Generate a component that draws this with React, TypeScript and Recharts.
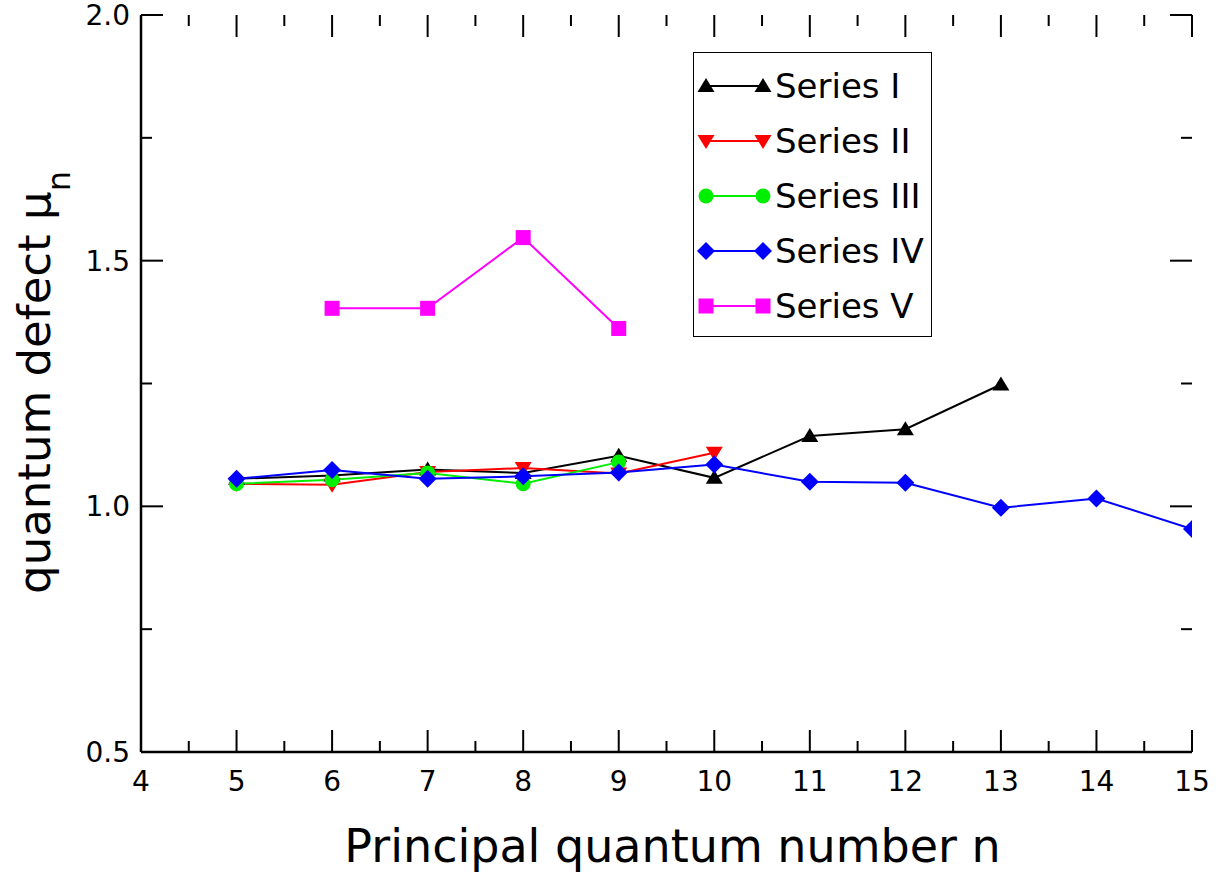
import React from 'react';
import { LineChart, Line, XAxis, YAxis, Legend } from 'recharts';

// --- values ---
const nSeriesI = [5, 6, 7, 8, 9, 10, 11, 12, 13];
const muSeriesI = [1.056, 1.063, 1.075, 1.068, 1.103, 1.058, 1.143, 1.157, 1.248];

const nSeriesII = [5, 6, 7, 8, 9, 10];
const muSeriesII = [1.046, 1.044, 1.07, 1.078, 1.067, 1.109];

const nSeriesIII = [5, 6, 7, 8, 9];
const muSeriesIII = [1.046, 1.054, 1.068, 1.046, 1.09];

const nSeriesIV = [5, 6, 7, 8, 9, 10, 11, 12, 13, 14, 15];
const muSeriesIV = [1.056, 1.074, 1.056, 1.061, 1.069, 1.085, 1.05, 1.048, 0.997, 1.016, 0.954];

const nSeriesV = [6, 7, 8, 9];
const muSeriesV = [1.403, 1.403, 1.547, 1.362];

const xTicks = [4, 4.5, 5, 5.5, 6, 6.5, 7, 7.5, 8, 8.5, 9, 9.5, 10, 10.5, 11, 11.5, 12, 12.5, 13, 13.5, 14, 14.5, 15];
const yTicks = [0.5, 0.75, 1, 1.25, 1.5, 1.75, 2];

const seriesNames = ['Series I', 'Series II', 'Series III', 'Series IV', 'Series V'];
const seriesColors = ['#000000', '#ff0000', '#00ee00', '#0000ff', '#ff00ff'];
const seriesShapes = ['up', 'down', 'circle', 'diamond', 'square'];

const FONT = '"DejaVu Sans", sans-serif';
const CHART_W = 1223;
const CHART_H = 873;
const MARGIN = { top: 15, right: 31, bottom: 0, left: 0 };
const PLOT_TOP = MARGIN.top;
const PLOT_RIGHT = CHART_W - MARGIN.right;

const toPoints = (ns: number[], mus: number[]) => ns.map((n, i) => ({ n, mu: mus[i] }));

const seriesData = [
  toPoints(nSeriesI, muSeriesI),
  toPoints(nSeriesII, muSeriesII),
  toPoints(nSeriesIII, muSeriesIII),
  toPoints(nSeriesIV, muSeriesIV),
  toPoints(nSeriesV, muSeriesV),
];

// --- symbols ---
const Symbol = ({ shape, cx, cy, color }: any) => {
  if (shape === 'up') {
    return <polygon points={`${cx},${cy - 8} ${cx + 8.5},${cy + 6} ${cx - 8.5},${cy + 6}`} fill={color} />;
  }
  if (shape === 'down') {
    return <polygon points={`${cx},${cy + 8} ${cx + 8.5},${cy - 6} ${cx - 8.5},${cy - 6}`} fill={color} />;
  }
  if (shape === 'circle') {
    return <circle cx={cx} cy={cy} r={7.5} fill={color} />;
  }
  if (shape === 'diamond') {
    return <polygon points={`${cx},${cy - 9} ${cx + 9},${cy} ${cx},${cy + 9} ${cx - 9},${cy}`} fill={color} />;
  }
  return <rect x={cx - 7.5} y={cy - 7.5} width={15} height={15} fill={color} />;
};

const makeDot = (shape: string, color: string) => (props: any) => {
  const { cx, cy, index } = props;
  if (cx == null || cy == null) return <g key={`d-${index}`} />;
  return (
    <g key={`d-${index}`}>
      <Symbol shape={shape} cx={cx} cy={cy} color={color} />
    </g>
  );
};

// --- ticks drawn inward, on all four sides ---
const isWhole = (v: number) => Math.abs(v - Math.round(v)) < 1e-6;
const isHalf = (v: number) => Math.abs(v * 2 - Math.round(v * 2)) < 1e-6;

const BottomTick = ({ x, y, payload }: any) => {
  const v = payload.value;
  const len = isWhole(v) ? 22 : 11;
  return (
    <g>
      <line x1={x} x2={x} y1={y} y2={y - len} stroke="#000" strokeWidth={2} />
      <line x1={x} x2={x} y1={PLOT_TOP} y2={PLOT_TOP + len} stroke="#000" strokeWidth={2} />
      {isWhole(v) && (
        <text x={x} y={y + 39} textAnchor="middle" fontSize={28} fontFamily={FONT} fill="#000">
          {v}
        </text>
      )}
    </g>
  );
};

const LeftTick = ({ x, y, payload }: any) => {
  const v = payload.value;
  const len = isHalf(v) ? 22 : 11;
  return (
    <g>
      <line x1={x} x2={x + len} y1={y} y2={y} stroke="#000" strokeWidth={2} />
      <line x1={PLOT_RIGHT} x2={PLOT_RIGHT - len} y1={y} y2={y} stroke="#000" strokeWidth={2} />
      {isHalf(v) && (
        <text x={x - 11} y={y + 10} textAnchor="end" fontSize={28} fontFamily={FONT} fill="#000">
          {v.toFixed(1)}
        </text>
      )}
    </g>
  );
};

// --- axis titles ---
const XTitle = ({ viewBox }: any) => (
  <text
    x={viewBox.x + viewBox.width / 2 + 6}
    y={viewBox.y + 110}
    textAnchor="middle"
    fontSize={46}
    fontFamily={FONT}
    fill="#000"
  >
    Principal quantum number n
  </text>
);

const YTitle = ({ viewBox }: any) => {
  const cx = 50;
  const cy = viewBox.y + viewBox.height / 2 - 1;
  return (
    <text
      x={cx}
      y={cy}
      transform={`rotate(-90, ${cx}, ${cy})`}
      textAnchor="middle"
      fontSize={45}
      fontFamily={FONT}
      fill="#000"
    >
      quantum defect μ
      <tspan fontSize={32} dy={20}>n</tspan>
    </text>
  );
};

// --- legend box ---
const LegendBox = () => (
  <div
    style={{
      width: 239,
      height: 285,
      border: '1.5px solid #000',
      boxSizing: 'border-box',
      background: '#fff',
    }}
  >
    <svg width={236} height={282}>
      {seriesNames.map((name, i) => {
        const cy = 33 + i * 55;
        return (
          <g key={name}>
            <line x1={12} x2={69} y1={cy} y2={cy} stroke={seriesColors[i]} strokeWidth={1.8} />
            <Symbol shape={seriesShapes[i]} cx={12} cy={cy} color={seriesColors[i]} />
            <Symbol shape={seriesShapes[i]} cx={69} cy={cy} color={seriesColors[i]} />
            <text x={81} y={cy + 12} fontSize={34} fontFamily={FONT} fill="#000">
              {name}
            </text>
          </g>
        );
      })}
    </svg>
  </div>
);

export default function App() {
  return (
    <div style={{ position: 'absolute', left: 0, top: 0, background: '#fff' }}>
      <LineChart width={CHART_W} height={CHART_H} margin={MARGIN} style={{ fontFamily: FONT }}>
        <XAxis
          dataKey="n"
          type="number"
          domain={[4, 15]}
          ticks={xTicks}
          interval={0}
          height={121}
          tickSize={0}
          tickMargin={0}
          tick={<BottomTick />}
          axisLine={{ stroke: '#000', strokeWidth: 2.5 }}
          allowDataOverflow
          label={<XTitle />}
        />
        <XAxis
          xAxisId="top"
          orientation="top"
          type="number"
          domain={[4, 15]}
          height={0}
          tick={false}
          tickLine={false}
          axisLine={{ stroke: '#000', strokeWidth: 2.5 }}
          allowDataOverflow
        />
        <YAxis
          type="number"
          domain={[0.5, 2]}
          ticks={yTicks}
          interval={0}
          width={141}
          tickSize={0}
          tickMargin={0}
          tick={<LeftTick />}
          axisLine={{ stroke: '#000', strokeWidth: 2.5 }}
          allowDataOverflow
          label={<YTitle />}
        />
        <YAxis
          yAxisId="right"
          orientation="right"
          type="number"
          domain={[0.5, 2]}
          width={0}
          tick={false}
          tickLine={false}
          axisLine={{ stroke: '#000', strokeWidth: 2.5 }}
          allowDataOverflow
        />
        {seriesData.map((data, i) => (
          <Line
            key={seriesNames[i]}
            name={seriesNames[i]}
            data={data}
            dataKey="mu"
            type="linear"
            stroke={seriesColors[i]}
            strokeWidth={2}
            dot={makeDot(seriesShapes[i], seriesColors[i])}
            activeDot={false}
            isAnimationActive={false}
          />
        ))}
        <Legend
          layout="horizontal"
          verticalAlign="middle"
          align="center"
          content={<LegendBox />}
          wrapperStyle={{ position: 'absolute', left: 693, top: 52, width: 239, height: 285 }}
        />
      </LineChart>
    </div>
  );
}
